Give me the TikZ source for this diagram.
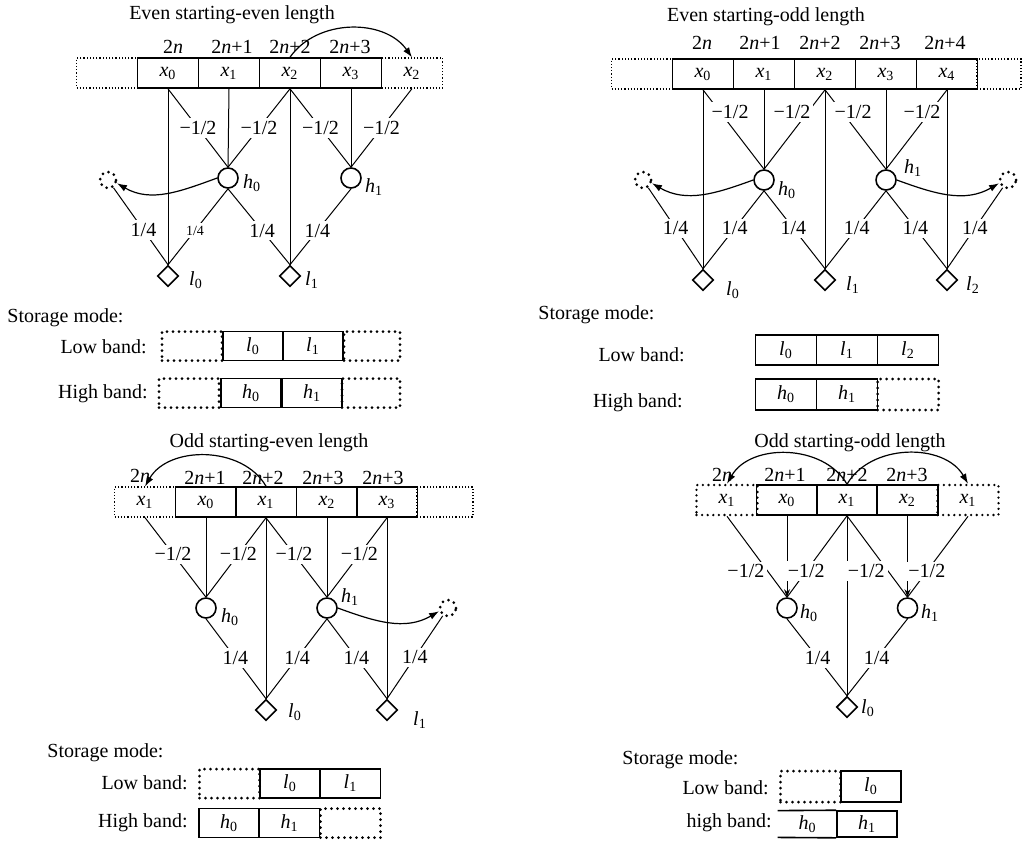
\documentclass[tikz,border=0pt]{standalone}
\usepackage{fontspec}
\setmainfont{Liberation Serif}
\usetikzlibrary{arrows.meta,shapes.geometric}

\newcommand{\vv}[2]{\textit{#1}\textsubscript{#2}}
\newcommand{\nn}[1]{2\textit{n}#1}

\begin{document}
\begin{tikzpicture}[x=0.5pt,y=-0.5pt,
  cell/.style={draw,line width=0.8pt,minimum width=30.5pt,minimum height=15pt,inner sep=0pt},
  dcell/.style={draw,densely dotted,line width=0.6pt,minimum width=30.5pt,minimum height=15pt,inner sep=0pt},
  gcell/.style={draw,dash pattern=on 0pt off 2.8pt,line cap=round,line width=1.3pt,minimum width=30.5pt,minimum height=15pt,inner sep=0pt},
  hnode/.style={draw,circle,line width=0.8pt,minimum size=10pt,inner sep=0pt},
  lnode/.style={draw,diamond,line width=0.8pt,minimum size=10.5pt,inner sep=0pt},
  ghost/.style={draw,circle,dash pattern=on 0pt off 3pt,line cap=round,line width=1.5pt,minimum size=8pt,inner sep=0pt},
  wire/.style={line width=0.5pt},
  wt/.style={fill=white,inner sep=1.5pt},
  txt/.style={inner sep=0pt},
  jump/.style={line width=0.6pt,-{Latex[length=5pt,width=3.5pt]}},
  tip/.style={-{Stealth[length=4pt,width=3pt]}},
  sbox/.style={draw,line width=0.8pt,minimum width=30pt,minimum height=14.5pt,inner sep=0pt},
  dbox/.style={draw,dash pattern=on 0pt off 3pt,line cap=round,line width=1.5pt,minimum width=30pt,minimum height=14.5pt,inner sep=0pt}
]
\useasboundingbox (0,0) rectangle (1036,843);

% even starting - even length
\node (tA) at (232,15) {Even starting-even length};
\node[dcell] (a0) at (107,73) {};
\node[cell] (a1) at (168,73) {\vv{x}{0}};
\node[cell] (a2) at (229,73) {\vv{x}{1}};
\node[cell] (a3) at (290,73) {\vv{x}{2}};
\node[cell] (a4) at (351,73) {\vv{x}{3}};
\node[dcell] (a5) at (412,73) {\vv{x}{2}};
\node (ia1) at (173,47) {\nn{}};
\node (ia2) at (232,47) {\nn{+1}};
\node (ia3) at (290,47) {\nn{+2}};
\node (ia4) at (350,47) {\nn{+3}};

\node[hnode] (ah0) at (228,178) {};
\node[hnode] (ah1) at (351,178) {};
\node[lnode] (al0) at (168,276) {};
\node[lnode] (al1) at (290,276) {};
\node[ghost] (ag) at (108,180) {};
\node (tah0) at (252,183) {\vv{h}{0}};
\node (tah1) at (374,187) {\vv{h}{1}};
\node (tal0) at (196,280) {\vv{l}{0}};
\node (tal1) at (312,280) {\vv{l}{1}};

\draw[wire] (a1.south) -- (al0.north);
\draw[wire] (a1.south) -- node[wt]{−1/2} (ah0.north);
\draw[wire] (a2.south) -- (ah0.north);
\draw[wire] (a3.south) -- node[wt]{−1/2} (ah0.north);
\draw[wire] (a3.south) -- (al1.north);
\draw[wire] (a3.south) -- node[wt]{−1/2} (ah1.north);
\draw[wire] (a4.south) -- (ah1.north);
\draw[wire] (a5.south) -- node[wt]{−1/2} (ah1.north);
\draw[wire] (ah0.south) -- node[wt,pos=0.55,font=\fontsize{7}{8}\selectfont]{1/4} (al0.north);
\draw[wire] (ah0.south) -- node[wt,pos=0.55]{1/4} (al1.north);
\draw[wire] (ah1.south) -- node[wt,pos=0.55]{1/4} (al1.north);
\draw[wire] (al0.north) -- node[wt,pos=0.45]{1/4} (ag);
\draw[jump] (ah0.west) to[out=200,in=-30] (ag.-20);
\draw[jump] (a3.north) to[out=55,in=125] (a5.north);

\node[txt,anchor=west] (smA) at (7,318) {Storage mode:};
\node[txt,anchor=east] (lbA) at (147,347) {Low band:};
\node[dbox] (alb0) at (192,346) {};
\node[sbox] (alb1) at (253,346) {\vv{l}{0}};
\node[sbox] (alb2) at (313,346) {\vv{l}{1}};
\node[dbox,minimum width=28pt] (alb3) at (372,346) {};
\node[txt,anchor=east] (hbA) at (148,394) {High band:};
\node[dbox] (ahb0) at (189,393) {};
\node[sbox] (ahb1) at (251,393) {\vv{h}{0}};
\node[sbox] (ahb2) at (312,393) {\vv{h}{1}};
\node[dbox,minimum width=29pt] (ahb3) at (371,393) {};

% even starting - odd length
\node (tB) at (766,17) {Even starting-odd length};
\node[dcell] (b0) at (642,74) {};
\node[cell] (b1) at (703,74) {\vv{x}{0}};
\node[cell] (b2) at (764,74) {\vv{x}{1}};
\node[cell] (b3) at (825,74) {\vv{x}{2}};
\node[cell] (b4) at (886,74) {\vv{x}{3}};
\node[cell] (b5) at (947,74) {\vv{x}{4}};
\node[dcell,minimum width=22pt] (b6) at (999,74) {};
\node (ib1) at (702,43) {\nn{}};
\node (ib2) at (760,43) {\nn{+1}};
\node (ib3) at (820,43) {\nn{+2}};
\node (ib4) at (880,43) {\nn{+3}};
\node (ib5) at (945,43) {\nn{+4}};

\node[hnode] (bh0) at (764,180) {};
\node[hnode] (bh1) at (886,180) {};
\node[lnode] (bl0) at (703,280) {};
\node[lnode] (bl1) at (825,280) {};
\node[lnode] (bl2) at (947,280) {};
\node[ghost] (bgl) at (643,180) {};
\node[ghost] (bgr) at (1008,180) {};
\node (tbh0) at (787,190) {\vv{h}{0}};
\node (tbh1) at (913,168) {\vv{h}{1}};
\node (tbl0) at (733,290) {\vv{l}{0}};
\node (tbl1) at (853,285) {\vv{l}{1}};
\node (tbl2) at (973,285) {\vv{l}{2}};

\draw[wire] (b1.south) -- (bl0.north);
\draw[wire] (b1.south) -- node[wt,pos=0.28,xshift=5pt]{−1/2} (bh0.north);
\draw[wire] (b2.south) -- (bh0.north);
\draw[wire] (b3.south) -- node[wt,pos=0.28,xshift=-8pt]{−1/2} (bh0.north);
\draw[wire] (b3.south) -- (bl1.north);
\draw[wire] (b3.south) -- node[wt,pos=0.28,xshift=5.5pt]{−1/2} (bh1.north);
\draw[wire] (b4.south) -- (bh1.north);
\draw[wire] (b5.south) -- node[wt,pos=0.28,xshift=-4pt]{−1/2} (bh1.north);
\draw[wire] (b5.south) -- (bl2.north);
\draw[wire] (bl0.north) -- node[wt,pos=0.5]{1/4} (bgl);
\draw[wire] (bh0.south) -- node[wt,pos=0.48]{1/4} (bl0.north);
\draw[wire] (bh0.south) -- node[wt,pos=0.48]{1/4} (bl1.north);
\draw[wire] (bh1.south) -- node[wt,pos=0.48]{1/4} (bl1.north);
\draw[wire] (bh1.south) -- node[wt,pos=0.48]{1/4} (bl2.north);
\draw[wire] (bl2.north) -- node[wt,pos=0.5]{1/4} (bgr);
\draw[jump] (bh0.west) to[out=200,in=-30] (bgl.-20);
\draw[jump] (bh1.east) to[out=-20,in=210] (bgr.200);

\node[txt,anchor=west] (smB) at (538,315) {Storage mode:};
\node[txt,anchor=east] (lbB) at (685,355) {Low band:};
\node[sbox,minimum width=30.5pt,minimum height=15pt] (blb0) at (786,350) {\vv{l}{0}};
\node[sbox,minimum width=30.5pt,minimum height=15pt] (blb1) at (847,350) {\vv{l}{1}};
\node[sbox,minimum width=30.5pt,minimum height=15pt] (blb2) at (908,350) {\vv{l}{2}};
\node[txt,anchor=east] (hbB) at (683,403) {High band:};
\node[sbox,minimum width=30.5pt,minimum height=15.5pt] (bhb0) at (786,394.5) {\vv{h}{0}};
\node[sbox,minimum width=30.5pt,minimum height=15.5pt] (bhb1) at (847,394.5) {\vv{h}{1}};
\node[dbox,minimum width=30.5pt,minimum height=15.5pt] (bhb2) at (908,394.5) {};

% odd starting - even length
\node (tC) at (269,443) {Odd starting-even length};
\node[dcell] (c0) at (145,502) {\vv{x}{1}};
\node[cell] (c1) at (206,502) {\vv{x}{0}};
\node[cell] (c2) at (266,502) {\vv{x}{1}};
\node[cell] (c3) at (327,502) {\vv{x}{2}};
\node[cell] (c4) at (387,502) {\vv{x}{3}};
\node[dcell,minimum width=28pt] (c5) at (445,502) {};
\node (ic0) at (140,476) {\nn{}};
\node (ic1) at (205,478) {\nn{+1}};
\node (ic2) at (263,478) {\nn{+2}};
\node (ic3) at (323,478) {\nn{+3}};
\node (ic4) at (383,478) {\nn{+3}};

\node[hnode] (ch0) at (206,608) {};
\node[hnode] (ch1) at (327,608) {};
\node[lnode] (cl0) at (266,710) {};
\node[lnode] (cl1) at (387,710) {};
\node[ghost] (cg) at (448,608) {};
\node (tch0) at (230,617) {\vv{h}{0}};
\node (tch1) at (350,597) {\vv{h}{1}};
\node (tcl0) at (295,712) {\vv{l}{0}};
\node (tcl1) at (420,720) {\vv{l}{1}};

\draw[wire] (c0.south) -- node[wt,pos=0.46]{−1/2} (ch0.north);
\draw[wire] (c1.south) -- (ch0.north);
\draw[wire] (c2.south) -- node[wt,pos=0.46]{−1/2} (ch0.north);
\draw[wire] (c2.south) -- (cl0.north);
\draw[wire] (c2.south) -- node[wt,pos=0.46]{−1/2} (ch1.north);
\draw[wire] (c3.south) -- (ch1.north);
\draw[wire] (c4.south) -- node[wt,pos=0.46]{−1/2} (ch1.north);
\draw[wire] (c4.south) -- (cl1.north);
\draw[wire] (ch0.south) -- node[wt,pos=0.49]{1/4} (cl0.north);
\draw[wire] (ch1.south) -- node[wt,pos=0.49]{1/4} (cl0.north);
\draw[wire] (ch1.south) -- node[wt,pos=0.49]{1/4} (cl1.north);
\draw[wire] (cl1.north) -- node[wt,pos=0.5]{1/4} (cg);
\draw[jump] (ch1.east) to[out=-20,in=210] (cg.200);
\draw[jump] (c2.north) to[out=120,in=60] (c0.north);

\node[txt,anchor=west] (smC) at (47,753) {Storage mode:};
\node[txt,anchor=east] (lbC) at (188,783) {Low band:};
\node[dbox] (clb0) at (229.5,783.5) {};
\node[sbox] (clb1) at (290,783.5) {\vv{l}{0}};
\node[sbox] (clb2) at (350.5,783.5) {\vv{l}{1}};
\node[txt,anchor=east] (hbC) at (188,823) {High band:};
\node[sbox] (chb0) at (229,823) {\vv{h}{0}};
\node[sbox] (chb1) at (289.5,823) {\vv{h}{1}};
\node[dbox] (chb2) at (350.5,823) {};

% odd starting - odd length
\node (tD) at (850,443) {Odd starting-odd length};
\node[gcell] (d0) at (727,500) {\vv{x}{1}};
\node[cell] (d1) at (787,500) {\vv{x}{0}};
\node[cell] (d2) at (847,500) {\vv{x}{1}};
\node[cell] (d3) at (907.5,500) {\vv{x}{2}};
\node[gcell] (d4) at (968,500) {\vv{x}{1}};
\node (id0) at (722,475) {\nn{}};
\node (id1) at (785,475) {\nn{+1}};
\node (id2) at (847,475) {\nn{+2}};
\node (id3) at (907,475) {\nn{+3}};

\node[hnode] (dh0) at (787,608) {};
\node[hnode] (dh1) at (907.5,608) {};
\node[lnode] (dl0) at (847,707) {};
\node (tdh0) at (809,613) {\vv{h}{0}};
\node (tdh1) at (930,613) {\vv{h}{1}};
\node (tdl0) at (868,708) {\vv{l}{0}};

\draw[wire] (d2.south) -- (dl0.north);
\draw[wire] (d0.south) -- node[wt,pos=0.68,anchor=east]{−1/2} (dh0.north);
\draw[wire,tip] (d1.south) -- (dh0.north);
\draw[wire] (d2.south) -- node[wt,pos=0.68]{−1/2} (dh0.north);
\draw[wire] (d2.south) -- node[wt,pos=0.68,anchor=east]{−1/2} (dh1.north);
\draw[wire,tip] (d3.south) -- (dh1.north);
\draw[wire] (d4.south) -- node[wt,pos=0.68]{−1/2} (dh1.north);
\draw[wire] (dh0.south) -- node[wt,pos=0.51]{1/4} (dl0.north);
\draw[wire] (dh1.south) -- node[wt,pos=0.51]{1/4} (dl0.north);
\draw[jump] (d2.north) to[out=120,in=60] (d0.north);
\draw[jump] (d2.north) to[out=60,in=120] (d4.north);

\node[txt,anchor=west] (smD) at (622,760) {Storage mode:};
\node[txt,anchor=east] (lbD) at (769,788) {Low band:};
\node[dbox,minimum height=15.5pt] (dlb0) at (810.5,786.5) {};
\node[sbox,minimum height=15.5pt] (dlb1) at (871,786.5) {\vv{l}{0}};
\node[txt,anchor=east] (hbD) at (772,823) {high band:};
\node[minimum width=29.5pt,minimum height=13pt,inner sep=0pt] (dhb0) at (807.5,824) {\vv{h}{0}};
\node[sbox,minimum height=13pt] (dhb1) at (867,824) {\vv{h}{1}};
\draw[line width=0.8pt] (dhb0.north west) -- (dhb1.north west) (dhb0.south west) -- (dhb1.south west);
\end{tikzpicture}
\end{document}
